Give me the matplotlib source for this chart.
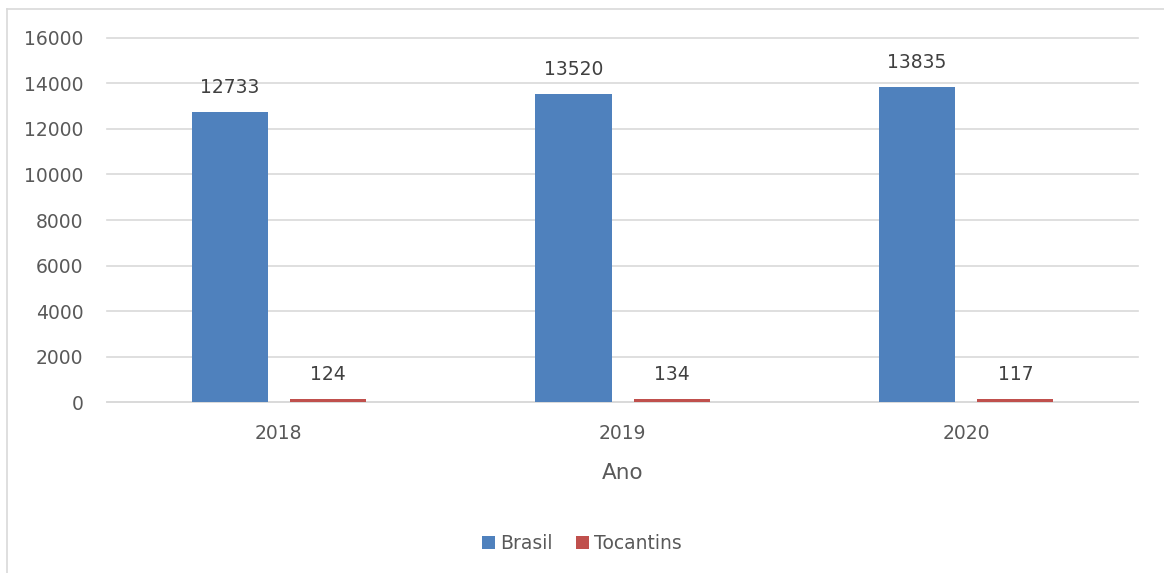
import matplotlib.pyplot as plt
import numpy as np

anos = ['2018', '2019', '2020']
brasil = [12733, 13520, 13835]
tocantins = [124, 134, 117]

plt.rcParams['font.family'] = 'DejaVu Sans'
cor_texto = '#595959'

fig = plt.figure(figsize=(11.64, 5.73), dpi=100)
ax = fig.add_axes([0.0919, 0.2984, 0.8858, 0.6353])

x = np.arange(len(anos))
w = 0.222
off = 0.143
b1 = ax.bar(x - off, brasil, w, color='#4F81BD', label='Brasil', zorder=3)
b2 = ax.bar(x + off, tocantins, w, color='#C0504D', label='Tocantins', zorder=3)

for bars in (b1, b2):
    for r in bars:
        ax.annotate(str(int(r.get_height())), (r.get_x() + r.get_width() / 2, r.get_height()),
                    xytext=(0, 11), textcoords='offset points', ha='center', va='bottom',
                    fontsize=13.5, color='#404040')

ax.set_xlim(-0.5, 2.5)
ax.set_ylim(0, 16000)
ax.set_yticks(range(0, 16001, 2000))
ax.set_xticks(x)
ax.set_xticklabels(anos)
ax.yaxis.grid(True, color='#D9D9D9', linewidth=1.2, zorder=0)
for gl in ax.get_ygridlines():
    gl.set_clip_on(False)
ax.tick_params(axis='both', length=0, labelsize=13.5, colors=cor_texto)
ax.tick_params(axis='x', pad=16)
ax.tick_params(axis='y', pad=17)
for s in ['top', 'right', 'left']:
    ax.spines[s].set_visible(False)
ax.spines['bottom'].set_color('#D9D9D9')
ax.spines['bottom'].set_linewidth(1.2)
ax.set_xlabel('Ano', fontsize=15.5, color=cor_texto, labelpad=14)

fig.legend(handles=[b1, b2], loc='center', bbox_to_anchor=(0.5, 0.052), ncol=2,
           frameon=False, fontsize=13.5, labelcolor=cor_texto, handlelength=0.7,
           handleheight=0.7, handletextpad=0.3, columnspacing=1.2)

# borda do grafico
fig.add_artist(plt.Line2D([0.006, 1.0], [0.984, 0.984], color='#D9D9D9', linewidth=1.2))
fig.add_artist(plt.Line2D([0.006, 0.006], [0.0, 0.984], color='#D9D9D9', linewidth=1.2))

fig.savefig('out.png', dpi=100)
